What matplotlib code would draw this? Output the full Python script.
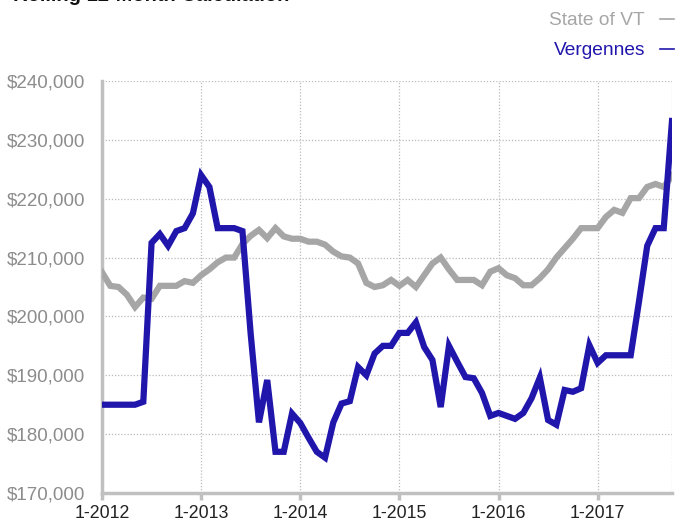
import matplotlib
matplotlib.use("Agg")
import matplotlib.pyplot as plt
from matplotlib.ticker import FuncFormatter

plt.rcParams['font.family'] = ['Liberation Sans', 'DejaVu Sans']

title = "Rolling 12-Month Calculation"
year_labels = ["1-2012", "1-2013", "1-2014", "1-2015", "1-2016", "1-2017"]
series_names = ["State of VT", "Vergennes"]

state_vt = [207500, 205200, 205000, 203700, 201600, 203200, 203000, 205200, 205200, 205200,
            206000, 205700, 207000, 208000, 209200, 210000, 210000, 212300, 213700, 214700,
            213300, 215000, 213600, 213200, 213200, 212700, 212700, 212200, 211000, 210200,
            210000, 209000, 205700, 205000, 205300, 206200, 205200, 206200, 205000, 207000,
            209000, 210000, 208000, 206200, 206200, 206200, 205300, 207600, 208200, 207000,
            206500, 205300, 205300, 206500, 208000, 210000, 211600, 213200, 215000, 215000,
            215000, 216900, 218100, 217600, 220100, 220100, 222000, 222500, 222000, 223900]

vergennes = [185000, 185000, 185000, 185000, 185000, 185500, 212500, 214000, 212000, 214500,
             215000, 217500, 224000, 222000, 215000, 215000, 215000, 214500, 197000, 182000,
             189200, 177000, 177000, 183500, 181900, 179400, 177000, 176000, 182000, 185200,
             185600, 191400, 190000, 193700, 195000, 195000, 197200, 197200, 199000, 194800,
             192600, 184600, 195000, 192300, 189700, 189500, 187000, 183100, 183600, 183100,
             182600, 183600, 186100, 189600, 182400, 181600, 187500, 187200, 187800, 195100,
             192100, 193400, 193400, 193400, 193400, 202500, 212000, 215000, 215000, 233200]

months = list(range(len(vergennes)))

gray = "#A6A6A6"
blue = "#2116AC"

fig = plt.figure(figsize=(6.89, 5.25), dpi=100)
ax = fig.add_axes([102/689, 1-493/525, (672-102)/689, (493-81)/525])

ax.plot(months, state_vt, color=gray, lw=4.5, solid_joinstyle='miter', zorder=3)
ax.plot(months, vergennes, color=blue, lw=4.5, solid_joinstyle='miter', zorder=4)

ax.set_xlim(0, 69)
ax.set_ylim(170000, 240000)
ax.set_yticks(range(170000, 240001, 10000))
ax.yaxis.set_major_formatter(FuncFormatter(lambda v, p: f"${int(v):,}"))
ax.set_xticks([12*i for i in range(len(year_labels))])
ax.set_xticklabels(year_labels)

ax.grid(True, color="#BBBBBB", linestyle=(0, (1, 1.5)), lw=0.9, zorder=1)
ax.axvline(69, color="#BBBBBB", linestyle=(0, (1, 1.5)), lw=0.9, zorder=1)

for s in ["top", "right"]:
    ax.spines[s].set_visible(False)
for s in ["left", "bottom"]:
    ax.spines[s].set_color("#C0C0C0")
    ax.spines[s].set_linewidth(2.5)

ax.tick_params(axis='y', length=0, labelsize=13.5, labelcolor="#8C8C8C", pad=12)
ax.tick_params(axis='x', length=5, width=2.5, color="#C0C0C0", labelsize=12.8,
               labelcolor="#222222", pad=4)

fig.text(13/689, 1-1/525, title, fontsize=14.5, fontweight='bold', color="#111111",
         ha='left', va='baseline')

fig.text(645/689, 1-25/525, series_names[0], fontsize=13.8, color=gray, ha='right', va='baseline')
fig.text(645/689, 1-55/525, series_names[1], fontsize=13.8, color=blue, ha='right', va='baseline')
fig.add_artist(plt.Line2D([660/689, 674/689], [1-19/525, 1-19/525], color=gray, lw=1.2,
                          transform=fig.transFigure))
fig.add_artist(plt.Line2D([660/689, 674/689], [1-49/525, 1-49/525], color=blue, lw=1.2,
                          transform=fig.transFigure))

fig.savefig("out.png", dpi=100)
